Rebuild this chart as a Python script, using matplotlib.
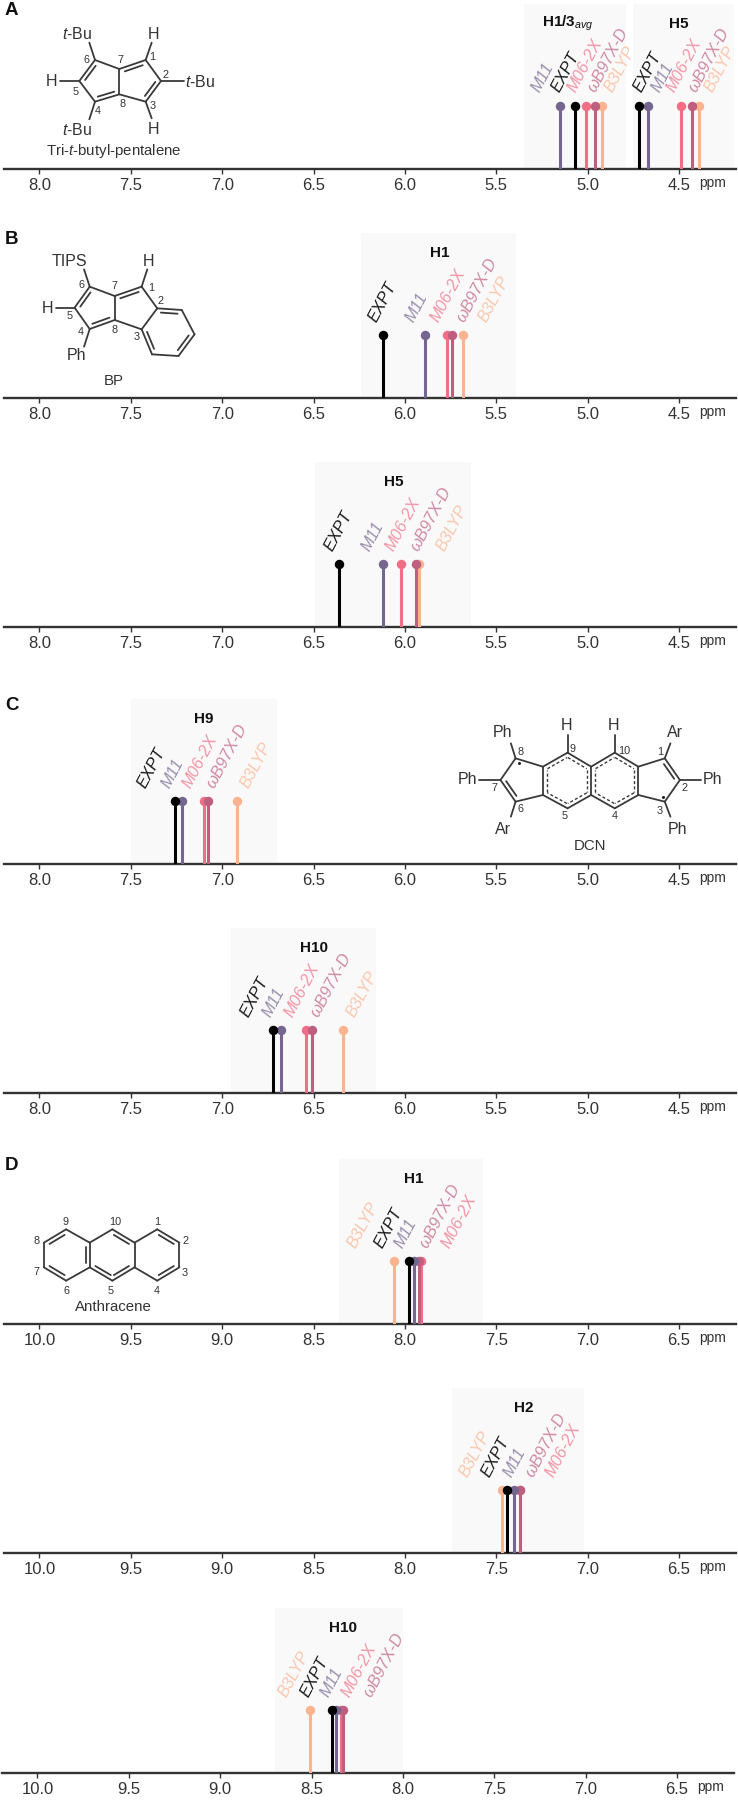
import matplotlib
matplotlib.use("Agg")
import matplotlib.pyplot as plt

plt.rcParams['font.family'] = ['Liberation Sans', 'DejaVu Sans']
plt.rcParams['mathtext.fontset'] = 'custom'
plt.rcParams['mathtext.rm'] = 'Liberation Sans'
plt.rcParams['mathtext.it'] = 'Liberation Sans:italic'
plt.rcParams['mathtext.bf'] = 'Liberation Sans:bold'

W, H = 738, 1800
METHODS = ['EXPT', 'M11', 'M06-2X', 'ωB97X-D', 'B3LYP']
COLORS = {'EXPT': '#000000', 'M11': '#75668f', 'M06-2X': '#f06f86',
          'ωB97X-D': '#bf5f80', 'B3LYP': '#fbb48f'}
DRAW_ORDER = ['B3LYP', 'M06-2X', 'ωB97X-D', 'M11', 'EXPT']

TICKS_A = [8.0, 7.5, 7.0, 6.5, 6.0, 5.5, 5.0, 4.5]
TICKS_D = [10.0, 9.5, 9.0, 8.5, 8.0, 7.5, 7.0, 6.5]

# chemical shifts in order of METHODS
A_H13 = [5.07, 5.15, 5.01, 4.96, 4.92]
A_H5 = [4.72, 4.67, 4.49, 4.43, 4.39]
B_H1 = [6.12, 5.89, 5.77, 5.74, 5.68]
B_H5 = [6.36, 6.12, 6.02, 5.94, 5.92]
C_H9 = [7.26, 7.22, 7.10, 7.08, 6.92]
C_H10 = [6.72, 6.68, 6.54, 6.51, 6.34]
D_H1 = [7.98, 7.95, 7.91, 7.92, 8.06]
D_H2 = [7.44, 7.40, 7.37, 7.37, 7.47]
D_H10 = [8.39, 8.365, 8.34, 8.33, 8.51]

# where each rotated label starts, on the ppm scale
A_H13_LAB = [5.20, 5.31, 5.11, 5.00, 4.91]
A_H5_LAB = [4.75, 4.65, 4.57, 4.45, 4.36]
B_H1_LAB = [6.20, 6.00, 5.86, 5.72, 5.60]
B_H5_LAB = [6.44, 6.24, 6.11, 5.97, 5.83]
C_H9_LAB = [7.465, 7.336, 7.22, 7.09, 6.90]
C_H10_LAB = [6.90, 6.78, 6.66, 6.52, 6.32]
D_H1_LAB = [8.17, 8.06, 7.80, 7.92, 8.315]
D_H2_LAB = [7.58, 7.46, 7.23, 7.34, 7.70]
D_H10_LAB = [8.56, 8.45, 8.34, 8.22, 8.68]

# axis baseline row, x shift, x origin, ticks, then the peak groups of each row
ROWS = [
    (168.5, -2, 8.205, TICKS_A, [(r'$\mathbf{H1/3}_{\mathit{avg}}$', 5.11, (5.35, 4.79), A_H13, A_H13_LAB),
                                 ('H5', 4.50, (4.75, 4.20), A_H5, A_H5_LAB)]),
    (398, -2, 8.205, TICKS_A, [('H1', 5.81, (6.24, 5.39), B_H1, B_H1_LAB)]),
    (627, -2, 8.205, TICKS_A, [('H5', 6.06, (6.49, 5.64), B_H5, B_H5_LAB)]),
    (864, -2, 8.205, TICKS_A, [('H9', 7.10, (7.50, 6.70), C_H9, C_H9_LAB)]),
    (1093, -2, 8.205, TICKS_A, [('H10', 6.50, (6.95, 6.16), C_H10, C_H10_LAB)]),
    (1324, -2, 10.205, TICKS_D, [('H1', 7.95, (8.36, 7.57), D_H1, D_H1_LAB)]),
    (1553, -2, 10.205, TICKS_D, [('H2', 7.35, (7.74, 7.02), D_H2, D_H2_LAB)]),
    (1773, -4, 10.205, TICKS_D, [('H10', 8.33, (8.70, 8.00), D_H10, D_H10_LAB)]),
]
PX_PER_PPM = 182.7
AX_L, AX_R, SPAN_H, STEM_H = 6, 738, 165, 63
LEFT_PAD_PPM = -2 / 182.7
DARK = '#333333'
LABEL_SHIFT_PPM = 0.06

fig = plt.figure(figsize=(W / 100, H / 100), dpi=100, facecolor='white')

for base, shift, left, ticks, groups in ROWS:
    ax = fig.add_axes([(AX_L + shift) / W, 1 - base / H, (AX_R - AX_L) / W, SPAN_H / H])
    x0 = left + LEFT_PAD_PPM
    ax.set_xlim(x0, x0 - (AX_R - AX_L) / PX_PER_PPM)
    ax.set_ylim(0, SPAN_H)
    ax.patch.set_alpha(0)
    for s in ['top', 'left', 'right']:
        ax.spines[s].set_visible(False)
    ax.spines['bottom'].set_linewidth(1.7)
    ax.spines['bottom'].set_color(DARK)
    ax.set_yticks([])
    ax.set_xticks(ticks)
    ax.set_xticklabels([f'{t:.1f}' for t in ticks], fontsize=12, color=DARK)
    ax.tick_params(axis='x', length=3.5, width=1, color=DARK, pad=3)
    ax.annotate('ppm', xy=((715 + shift) / W, 1 - (base + 14) / H), xycoords='figure fraction',
                ha='center', va='center', fontsize=10, color=DARK)
    for title, tx, span, vals, labs in groups:
        ax.axvspan(span[0], span[1], color='#f9f9f9', lw=0, zorder=0)
        ax.text(tx, 145, title, ha='center', va='center', fontsize=11,
                fontweight='bold', color='#111111')
        for m in DRAW_ORDER:
            i = METHODS.index(m)
            ax.vlines(vals[i], 0, STEM_H, color=COLORS[m], lw=2.2, zorder=3)
            ax.plot([vals[i]], [STEM_H], 'o', ms=6.8, color=COLORS[m], mec='none', zorder=4)
            ax.text(labs[i] - LABEL_SHIFT_PPM, STEM_H + 11, m, rotation=62, rotation_mode='anchor',
                    ha='left', va='bottom', fontsize=11.8, style='italic',
                    color=COLORS[m], alpha=0.72 if m != 'EXPT' else 0.9, zorder=5)

# chemical structures, on an overlay in reference pixels
ov = fig.add_axes([0, 0, 1, 1])
ov.set_xlim(0, W)
ov.set_ylim(H, 0)
ov.axis('off')
LINE = '#3a3a3a'

def bond(a, b, **kw):
    ov.plot([a[0], b[0]], [a[1], b[1]], color=LINE, lw=kw.get('lw', 1.3),
            ls=kw.get('ls', '-'), solid_capstyle='round')

def inner(a, b, c, ls='-', off=4.0, trim=0.16):
    """second line of a double bond, moved towards the ring centre c"""
    dx, dy = b[0] - a[0], b[1] - a[1]
    n = (dx * dx + dy * dy) ** 0.5
    nx, ny = -dy / n, dx / n
    mx, my = (a[0] + b[0]) / 2, (a[1] + b[1]) / 2
    if (c[0] - mx) * nx + (c[1] - my) * ny < 0:
        nx, ny = -nx, -ny
    p = (a[0] + dx * trim + nx * off, a[1] + dy * trim + ny * off)
    q = (b[0] - dx * trim + nx * off, b[1] - dy * trim + ny * off)
    if ls == '-':
        bond(p, q)
    else:
        ov.plot([p[0], q[0]], [p[1], q[1]], color=LINE, lw=1.0, ls=(0, (2.2, 1.6)))

def mean(*pts):
    return (sum(p[0] for p in pts) / len(pts), sum(p[1] for p in pts) / len(pts))

def lab(p, s, size=11.5):
    ov.text(p[0], p[1], s, ha='center', va='center', fontsize=size, color='#333333')

def num(p, s):
    lab(p, s, 7.8)

def panel(p, s):
    ov.text(p[0], p[1], s, ha='center', va='center', fontsize=13.5, fontweight='bold', color='#111111')

TBU = r'$\mathit{t}$-Bu'

# A
def a(x, y):
    return (x / 3, y / 3)
panel(a(35, 32), 'A')
c6, c7, c8, c4, c5 = a(285, 180), a(358, 207), a(358, 283), a(285, 305), a(238, 243)
c1, c2, c3 = a(437, 180), a(483, 243), a(437, 305)
for p, q in [(c6, c7), (c7, c8), (c8, c4), (c4, c5), (c5, c6), (c7, c1), (c1, c2), (c2, c3), (c3, c8)]:
    bond(p, q)
lc, rc = mean(c6, c7, c8, c4, c5), mean(c7, c1, c2, c3, c8)
inner(c6, c5, lc); inner(c8, c4, lc); inner(c7, c1, rc); inner(c2, c3, rc)
for p, q in [(c6, a(268, 128)), (c5, a(180, 243)), (c4, a(268, 358)), (c1, a(455, 128)), (c2, a(553, 243)), (c3, a(455, 355))]:
    bond(p, q)
for p, s in [(a(230, 103), TBU), (a(461, 103), 'H'), (a(155, 245), 'H'), (a(600, 245), TBU),
             (a(230, 390), TBU), (a(461, 390), 'H')]:
    lab(p, s)
lab(a(340, 452), r'Tri-$\mathit{t}$-butyl-pentalene', 10.8)
for p, s in [(a(258, 180), '6'), (a(362, 180), '7'), (a(458, 172), '1'), (a(497, 225), '2'),
             (a(228, 275), '5'), (a(367, 313), '8'), (a(292, 332), '4'), (a(458, 318), '3')]:
    num(p, s)

# B
def b(x, y):
    return (x / 2.118, y / 3 + 220)
panel(b(25, 58), 'B')
c6, c7, c8, c4, c5 = b(190, 200), b(243, 228), b(243, 300), b(190, 327), b(158, 263)
c1, c2, c3 = b(300, 200), b(333, 265), b(300, 328)
r1, r2, r3, r4 = b(385, 270), b(412, 343), b(378, 408), b(322, 403)
for p, q in [(c6, c7), (c7, c8), (c8, c4), (c4, c5), (c5, c6), (c7, c1), (c1, c2), (c2, c3), (c3, c8),
             (c2, r1), (r1, r2), (r2, r3), (r3, r4), (r4, c3)]:
    bond(p, q)
lc, rc, bc = mean(c6, c7, c8, c4, c5), mean(c7, c1, c2, c3, c8), mean(c2, r1, r2, r3, r4, c3)
inner(c6, c5, lc); inner(c8, c4, lc); inner(c7, c1, rc); inner(c2, r1, bc); inner(r2, r3, bc); inner(r4, c3, bc)
for p, q in [(c1, b(312, 148)), (c6, b(178, 148)), (c5, b(118, 263)), (c4, b(178, 380))]:
    bond(p, q)
for p, s in [(b(315, 125), 'H'), (b(148, 125), 'TIPS'), (b(100, 265), 'H'), (b(162, 405), 'Ph')]:
    lab(p, s)
lab(b(240, 482), 'BP', 10.8)
for p, s in [(b(173, 195), '6'), (b(243, 198), '7'), (b(320, 203), '1'), (b(340, 243), '2'),
             (b(148, 287), '5'), (b(172, 335), '4'), (b(243, 330), '8'), (b(290, 352), '3')]:
    num(p, s)

# C
def cc(x, y):
    return (x / 2.118, y / 3 + 680)
panel(cc(25, 75), 'C')
c8, c7, c6 = cc(1092, 235), cc(1060, 300), cc(1092, 365)
lt, lb, c9, c5 = cc(1150, 260), cc(1150, 345), cc(1202, 218), cc(1202, 385)
ct, cb, c10, c4 = cc(1252, 260), cc(1252, 345), cc(1302, 218), cc(1302, 385)
rt, rb, c1, c2, c3 = cc(1352, 260), cc(1352, 345), cc(1408, 235), cc(1440, 300), cc(1408, 365)
for p, q in [(c8, c7), (c7, c6), (c6, lb), (lb, lt), (lt, c8), (lt, c9), (c9, ct), (ct, cb), (cb, c5), (c5, lb),
             (ct, c10), (c10, rt), (rt, rb), (rb, c4), (c4, cb), (rt, c1), (c1, c2), (c2, c3), (c3, rb)]:
    bond(p, q)
lc, rc = mean(c8, c7, c6, lb, lt), mean(rt, c1, c2, c3, rb)
inner(c7, c6, lc); inner(c1, c2, rc)
h1, h2 = mean(lt, c9, ct, cb, c5, lb), mean(ct, c10, rt, rb, c4, cb)
for p, q in [(lt, c9), (c9, ct), (ct, cb), (cb, c5), (c5, lb), (lb, lt)]:
    inner(p, q, h1, ls='--', trim=0.1)
for p, q in [(ct, c10), (c10, rt), (rt, rb), (rb, c4), (c4, cb), (cb, ct)]:
    inner(p, q, h2, ls='--', trim=0.1)
for p, q in [(c8, cc(1082, 190)), (c7, cc(1015, 300)), (c6, cc(1082, 410)), (c9, cc(1202, 165)),
             (c10, cc(1302, 165)), (c1, cc(1420, 190)), (c2, cc(1485, 300)), (c3, cc(1420, 410))]:
    bond(p, q)
for p, s in [(cc(1065, 157), 'Ph'), (cc(990, 300), 'Ph'), (cc(1065, 450), 'Ar'), (cc(1200, 138), 'H'),
             (cc(1300, 138), 'H'), (cc(1430, 157), 'Ar'), (cc(1510, 300), 'Ph'), (cc(1435, 450), 'Ph')]:
    lab(p, s)
lab(cc(1250, 498), 'DCN', 10.8)
for p, s in [(cc(1103, 215), '8'), (cc(1213, 208), '9'), (cc(1322, 212), '10'), (cc(1398, 215), '1'),
             (cc(1450, 325), '2'), (cc(1398, 392), '3'), (cc(1302, 407), '4'), (cc(1196, 407), '5'),
             (cc(1103, 388), '6'), (cc(1048, 325), '7')]:
    num(p, s)
for p in [cc(1100, 248), cc(1405, 352)]:
    ov.plot([p[0]], [p[1]], 'o', ms=2.2, color='#222222', mec='none')

# D
def d(x, y):
    return (x / 2.118, y / 3 + 1130)
panel(d(25, 108), 'D')
t1, t2, t3 = d(140, 298), d(238, 298), d(333, 298)
l1, l2, l3, l4, l5 = d(93, 338), d(93, 412), d(140, 452), d(190, 412), d(190, 338)
m = d(238, 452)
r1, r2, r3, r4, r5 = d(285, 338), d(285, 412), d(333, 452), d(380, 412), d(380, 338)
for p, q in [(t1, l1), (l1, l2), (l2, l3), (l3, l4), (l4, l5), (l5, t1), (l5, t2), (t2, r1), (r1, r2), (r2, m), (m, l4),
             (r1, t3), (t3, r5), (r5, r4), (r4, r3), (r3, r2)]:
    bond(p, q)
lc, mc, rc = mean(t1, l1, l2, l3, l4, l5), mean(l5, t2, r1, r2, m, l4), mean(r1, t3, r5, r4, r3, r2)
inner(t1, l1, lc); inner(l2, l3, lc); inner(l4, l5, lc); inner(t2, r1, mc); inner(l4, m, mc); inner(m, r2, mc)
inner(t3, r5, rc); inner(r4, r3, rc)
for p, s in [(d(138, 277), '9'), (d(245, 277), '10'), (d(333, 277), '1'), (d(392, 333), '2'), (d(392, 428), '3'),
             (d(333, 483), '4'), (d(235, 483), '5'), (d(140, 483), '6'), (d(77, 425), '7'), (d(77, 333), '8')]:
    num(p, s)
lab(d(240, 530), 'Anthracene', 10.8)

fig.savefig('out.png', dpi=100, facecolor='white')
